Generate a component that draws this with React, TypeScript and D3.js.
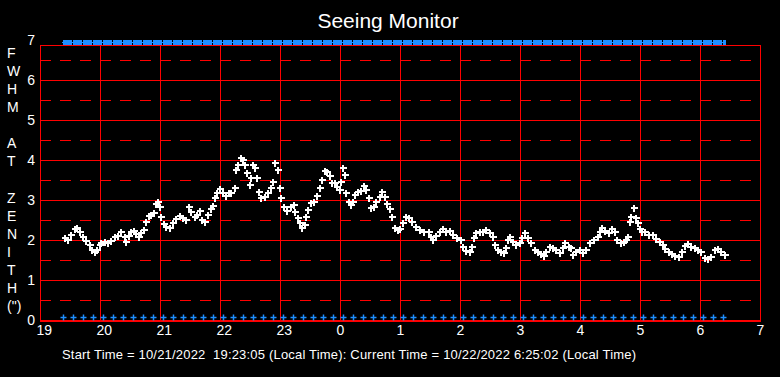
import React, { useEffect } from "react";
import * as d3 from "d3";

// minutes after 19:00 and FWHM (arcsec)
const minutes = [25,28,31,35,37,40,43,46,50,52,55,57,60,61,65,68,71,75,78,81,85,86,89,91,94,96,99,101,104,106,109,111,114,116,118,120,121,124,126,130,133,136,140,143,146,149,151,155,157,160,162,165,168,171,173,175,177,180,183,186,189,
191,195,196,198,201,203,205,207,210,211,213,215,217,219,221,225,228,231,233,235,238,240,241,244,247,251,254,255,258,260,262,265,266,268,271,274,277,280,282,285,287,290,292,295,297,300,301,303,305,306,309,311,313,315,318,321,324,326,329,331,334,336,340,342,345,347,350,352,355,358,
360,363,366,369,372,376,380,384,389,391,393,396,400,403,406,410,413,417,421,423,426,430,432,434,436,440,443,446,450,453,455,458,461,464,466,468,470,473,476,480,482,485,488,491,495,498,501,504,506,510,513,516,520,523,525,529,
531,533,536,540,543,546,550,554,558,560,562,565,569,572,575,577,581,584,586,588,590,591,594,596,598,600,602,605,609,613,616,620,623,625,629,632,635,639,642,645,648,651,655,658,661,665,668,671,675,678,681,685];
const fwhm = [2.04,2.0,2.12,2.27,2.29,2.21,2.07,1.98,1.88,1.75,1.69,1.75,1.88,1.93,1.96,1.93,1.98,2.07,2.10,2.21,2.08,1.96,2.10,2.21,2.23,2.15,2.07,2.17,2.25,2.46,2.60,2.62,2.68,2.90,2.96,2.83,2.58,2.40,2.32,2.29,2.42,2.52,2.60,2.56,2.50,2.82,2.71,2.58,2.62,2.73,2.50,2.46,2.62,2.77,2.85,3.04,3.17,3.27,3.18,3.10,3.17,
3.17,3.29,3.75,3.87,4.04,4.00,3.87,3.67,3.37,3.54,3.87,3.79,3.54,3.21,3.04,3.08,3.17,3.29,3.46,3.92,3.75,3.29,3.04,2.83,2.73,2.83,2.87,2.71,2.54,2.42,2.29,2.37,2.58,2.75,2.92,2.96,3.10,3.29,3.50,3.73,3.71,3.60,3.42,3.42,3.33,3.25,3.46,3.79,3.62,3.17,2.96,2.87,2.96,3.12,3.21,3.23,3.35,3.25,3.04,2.79,2.83,2.96,3.08,3.21,3.08,2.90,2.77,2.58,2.29,2.25,
2.27,2.42,2.58,2.54,2.46,2.33,2.25,2.21,2.21,2.08,2.00,2.10,2.21,2.27,2.21,2.23,2.12,2.04,2.00,1.83,1.72,1.71,1.83,2.04,2.18,2.21,2.21,2.25,2.17,2.08,1.88,1.75,1.71,1.67,1.79,2.00,2.07,1.96,1.88,1.92,2.04,2.17,2.04,1.92,1.75,1.71,1.65,1.60,1.71,1.83,1.79,1.75,1.68,1.79,1.92,1.83,
1.79,1.63,1.71,1.75,1.67,1.75,1.92,2.00,2.08,2.21,2.29,2.23,2.17,2.27,2.21,2.00,1.93,1.96,2.00,2.08,2.46,2.58,2.79,2.54,2.42,2.27,2.21,2.21,2.12,2.12,2.02,1.96,1.88,1.77,1.71,1.65,1.60,1.58,1.71,1.85,1.90,1.83,1.79,1.75,1.71,1.54,1.52,1.58,1.75,1.77,1.71,1.63];

// 10-minute status markers (minutes after 19:00)
const statusMinutes = d3.range(23, 684, 10);

const xTickLabels = ["19","20","21","22","23","0","1","2","3","4","5","6","7"];
const yTickValues = [0,1,2,3,4,5,6,7];
const yAxisLetters = ["F","W","H","M","","A","T","","Z","E","N","I","T","H","(\")"];
const titleText = "Seeing Monitor";
const footerText = "Start Time = 10/21/2022  19:23:05 (Local Time): Current Time = 10/22/2022 6:25:02 (Local Time)";

const W = 780, H = 377;
const FONT = "'Liberation Sans', Arial, sans-serif";
const RED = "#ff0000";
const BLUE = "#1e8fff";

export default function App() {
  useEffect(() => {
    document.body.style.margin = "0";
    document.body.style.background = "#000";
  }, []);

  const x = d3.scaleLinear().domain([0, 720]).range([40, 760]);
  const y = d3.scaleLinear().domain([0, 7]).range([320, 40]);
  const frameTop = 45;

  const hours = d3.range(0, 13);
  const halfLines = d3.range(0.5, 7, 1);
  const intLines = d3.range(1, 7);

  const barStart = x(statusMinutes[0]) - 1;
  const barEnd = x(statusMinutes[statusMinutes.length - 1]) + 3;

  return (
    <svg width={W} height={H} style={{ display: "block", position: "absolute", left: 0, top: 0 }} fontFamily={FONT}>
      <rect x={0} y={0} width={W} height={H} fill="#000" />
      <text x={388} y={28} fill="#fff" fontSize={21} textAnchor="middle">{titleText}</text>

      {/* dashed half-unit grid */}
      {halfLines.map((v) => (
        <line key={"h" + v} x1={40} x2={760} y1={Math.round(y(v)) + 0.5} y2={Math.round(y(v)) + 0.5}
          stroke={RED} strokeWidth={1} strokeDasharray="11 9" shapeRendering="crispEdges" />
      ))}
      {/* solid integer grid */}
      {intLines.map((v) => (
        <line key={"i" + v} x1={40} x2={760} y1={Math.round(y(v)) + 0.5} y2={Math.round(y(v)) + 0.5}
          stroke={RED} strokeWidth={1} shapeRendering="crispEdges" />
      ))}
      {/* vertical hour lines */}
      {hours.map((h) => (
        <line key={"v" + h} x1={x(h * 60) + 0.5} x2={x(h * 60) + 0.5} y1={frameTop} y2={y(0)}
          stroke={RED} strokeWidth={1} shapeRendering="crispEdges" />
      ))}
      <line x1={40} x2={760} y1={frameTop + 0.5} y2={frameTop + 0.5} stroke={RED} strokeWidth={1} shapeRendering="crispEdges" />
      <line x1={40} x2={761} y1={y(0) + 0.5} y2={y(0) + 0.5} stroke={RED} strokeWidth={2} shapeRendering="crispEdges" />

      {/* top status bar */}
      <line x1={barStart} x2={barEnd} y1={42.5} y2={42.5} stroke={BLUE} strokeWidth={1} />
      {statusMinutes.map((m) => (
        <rect key={"s" + m} x={x(m)} y={40} width={Math.max(0, Math.min(9, barEnd - x(m)))} height={5} fill={BLUE} />
      ))}
      {/* bottom status markers */}
      {statusMinutes.map((m) => {
        const cx = Math.round(x(m)) + 0.5, cy = Math.round(y(0.08)) + 0.5;
        return (
          <g key={"b" + m} stroke={BLUE} strokeWidth={1.5}>
            <line x1={cx - 3} x2={cx + 3} y1={cy} y2={cy} />
            <line x1={cx} x2={cx} y1={cy - 3} y2={cy + 3} />
          </g>
        );
      })}

      {/* data markers */}
      {minutes.map((m, i) => {
        const cx = Math.round(x(m)), cy = Math.round(y(fwhm[i]));
        return (
          <g key={"d" + i} stroke="#fff" strokeWidth={2} shapeRendering="crispEdges">
            <line x1={cx - 3.5} x2={cx + 3.5} y1={cy} y2={cy} />
            <line x1={cx} x2={cx} y1={cy - 3.5} y2={cy + 3.5} />
          </g>
        );
      })}

      {/* y tick labels */}
      {yTickValues.map((v) => (
        <text key={"yt" + v} x={35} y={y(v) + 5} fill="#fff" fontSize={14} textAnchor="end">{v}</text>
      ))}
      {/* x tick labels */}
      {xTickLabels.map((l, i) => (
        <text key={"xt" + i} x={x(i * 60) - 3.5} y={335} fill="#fff" fontSize={14} textAnchor="start">{l}</text>
      ))}
      {/* vertical axis title */}
      {yAxisLetters.map((c, i) => (
        <text key={"yl" + i} x={7} y={53 + i * 18.07 + 5} fill="#fff" fontSize={14}>{c}</text>
      ))}
      <text x={62} y={359} fill="#fff" fontSize={13} style={{ whiteSpace: "pre" }} textLength={574} lengthAdjust="spacing">{footerText}</text>
    </svg>
  );
}
